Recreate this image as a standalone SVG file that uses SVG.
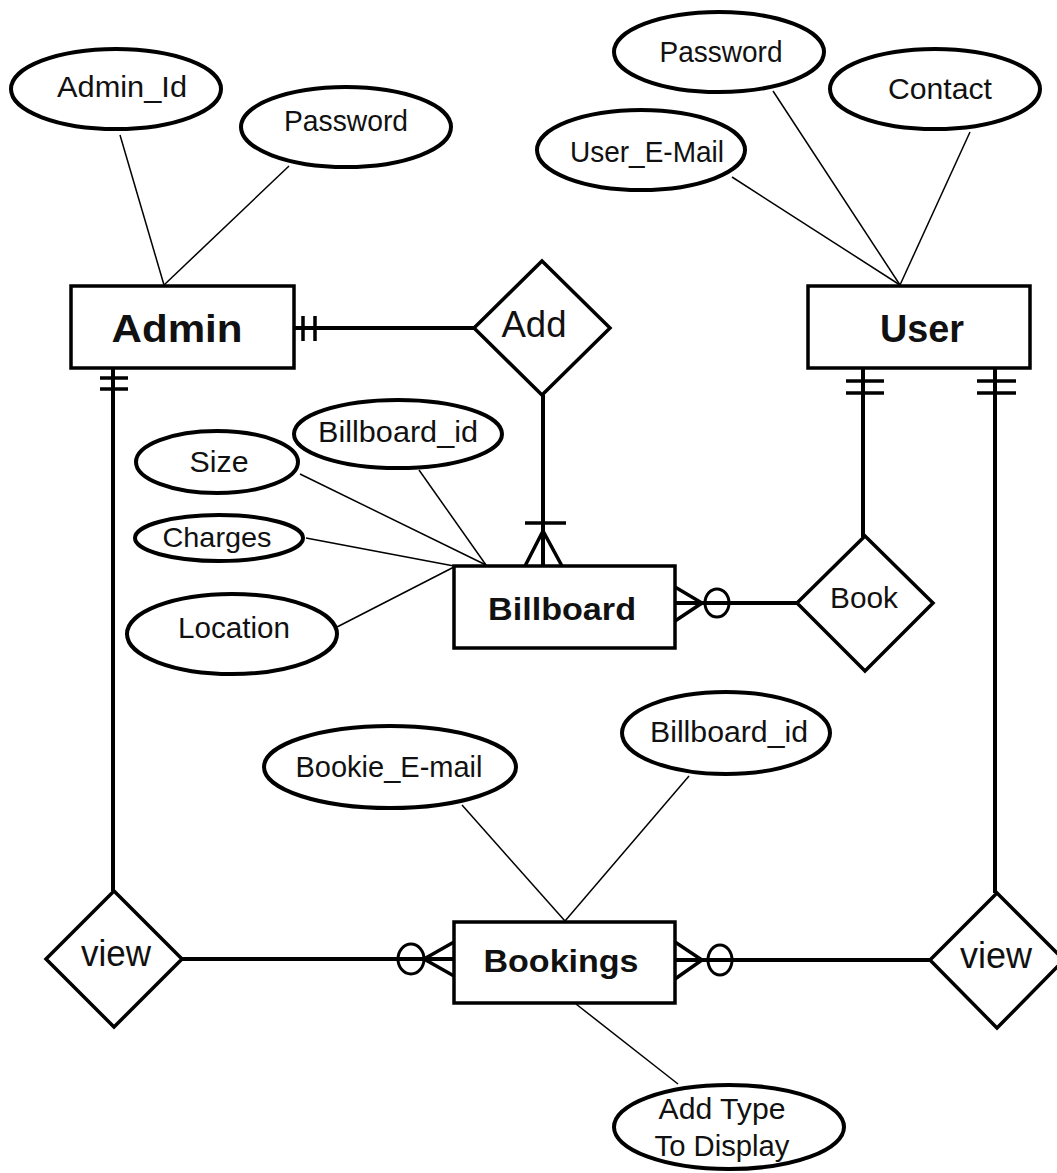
<svg xmlns="http://www.w3.org/2000/svg" width="1057" height="1173" viewBox="0 0 1057 1173">
<style>
  .bg { fill: #ffffff; }
  .ent { fill: #ffffff; stroke: #000; stroke-width: 3.5; }
  .att { fill: #ffffff; stroke: #000; stroke-width: 4; }
  .rel { fill: #ffffff; stroke: #000; stroke-width: 3.5; stroke-linejoin: miter; }
  .conn line, .conn polyline { stroke: #000; fill: none; }
  .thick { stroke-width: 4; }
  .thin { stroke-width: 1.5; }
  .mark { stroke-width: 3.5; }
  .circ { fill: none; stroke: #000; stroke-width: 3; }
  text { font-family: "Liberation Sans", Arial, sans-serif; fill: #111; text-anchor: middle; }
  .t { font-size: 30px; }
  .tb { font-weight: bold; }
</style>
<rect class="bg" x="0" y="0" width="1057" height="1173"/>

<g id="connectors" class="conn">
  <!-- attribute lines -->
  <line class="thin" x1="120" y1="135" x2="164" y2="285"/>
  <line class="thin" x1="289" y1="166" x2="164" y2="285"/>
  <line class="thin" x1="732" y1="177" x2="900" y2="285"/>
  <line class="thin" x1="773" y1="91" x2="900" y2="285"/>
  <line class="thin" x1="970" y1="132" x2="900" y2="285"/>
  <line class="thin" x1="300" y1="474" x2="486" y2="565"/>
  <line class="thin" x1="419" y1="470" x2="486" y2="565"/>
  <line class="thin" x1="306" y1="538" x2="454" y2="566"/>
  <line class="thin" x1="337" y1="627" x2="454" y2="567"/>
  <line class="thin" x1="462" y1="805" x2="565" y2="921"/>
  <line class="thin" x1="689" y1="776" x2="565" y2="921"/>
  <line class="thin" x1="576" y1="1004" x2="678" y2="1084"/>

  <!-- Admin - Add -->
  <line class="thick" x1="295" y1="328" x2="474" y2="328"/>
  <line class="mark" x1="303" y1="316" x2="303" y2="341"/>
  <line class="mark" x1="315" y1="316" x2="315" y2="341"/>

  <!-- Add - Billboard -->
  <line class="thick" x1="543" y1="395" x2="543" y2="566"/>
  <line class="mark" x1="525" y1="523" x2="566" y2="523"/>
  <polyline class="mark" points="525,566 543,531 562,566"/>

  <!-- Admin - view (left) -->
  <line class="thick" x1="113" y1="368" x2="113" y2="891"/>
  <line class="mark" x1="100" y1="378" x2="128" y2="378"/>
  <line class="mark" x1="100" y1="389" x2="128" y2="389"/>

  <!-- User - Book -->
  <line class="thick" x1="863" y1="369" x2="863" y2="537"/>
  <line class="mark" x1="846" y1="381" x2="884" y2="381"/>
  <line class="mark" x1="846" y1="393" x2="884" y2="393"/>

  <!-- User - view (right) -->
  <line class="thick" x1="995" y1="369" x2="995" y2="893"/>
  <line class="mark" x1="977" y1="381" x2="1016" y2="381"/>
  <line class="mark" x1="977" y1="393" x2="1016" y2="393"/>

  <!-- Billboard - Book -->
  <line class="thick" x1="675" y1="603" x2="797" y2="603"/>
  <polyline class="mark" points="675,587 702,603 675,621"/>
  <ellipse class="circ" cx="717" cy="603" rx="12" ry="14"/>

  <!-- view (left) - Bookings -->
  <line class="thick" x1="182" y1="959" x2="454" y2="959"/>
  <polyline class="mark" points="454,942 424,959 454,976"/>
  <ellipse class="circ" cx="411" cy="959" rx="13" ry="15"/>

  <!-- Bookings - view (right) -->
  <line class="thick" x1="675" y1="960" x2="930" y2="960"/>
  <polyline class="mark" points="675,942 702,960 675,979"/>
  <ellipse class="circ" cx="720" cy="960" rx="12" ry="15"/>
</g>

<g id="admin">
  <rect class="ent" x="71" y="286" width="223" height="82"/>
  <text class="tb" x="177" y="342" font-size="38" textLength="131" lengthAdjust="spacingAndGlyphs">Admin</text>
</g>
<g id="user">
  <rect class="ent" x="808" y="286" width="222" height="82"/>
  <text class="tb" x="922" y="342" font-size="38" textLength="84" lengthAdjust="spacingAndGlyphs">User</text>
</g>
<g id="billboard">
  <rect class="ent" x="454" y="566" width="221" height="82"/>
  <text class="tb" x="562" y="620" font-size="32" textLength="148" lengthAdjust="spacingAndGlyphs">Billboard</text>
</g>
<g id="bookings">
  <rect class="ent" x="454" y="922" width="221" height="81"/>
  <text class="tb" x="561" y="972" font-size="32" textLength="155" lengthAdjust="spacingAndGlyphs">Bookings</text>
</g>

<g id="add">
  <polygon class="rel" points="542,261 610,328 542,395 474,328"/>
  <text x="534" y="337" font-size="36" textLength="65" lengthAdjust="spacingAndGlyphs">Add</text>
</g>
<g id="book">
  <polygon class="rel" points="865,536 933,603 865,671 797,603"/>
  <text class="t" x="864" y="608" textLength="68" lengthAdjust="spacingAndGlyphs">Book</text>
</g>
<g id="view-admin">
  <polygon class="rel" points="114,891 182,959 114,1027 46,959"/>
  <text x="116" y="966" font-size="36" textLength="70" lengthAdjust="spacingAndGlyphs">view</text>
</g>
<g id="view-user">
  <polygon class="rel" points="997,893 1064,960 997,1028 930,960"/>
  <text x="996" y="968" font-size="36" textLength="72" lengthAdjust="spacingAndGlyphs">view</text>
</g>

<g id="attr-admin-id">
  <ellipse class="att" cx="116" cy="89" rx="105" ry="40"/>
  <text class="t" x="122" y="97" textLength="130" lengthAdjust="spacingAndGlyphs">Admin_Id</text>
</g>
<g id="attr-admin-password">
  <ellipse class="att" cx="346" cy="127" rx="105" ry="40"/>
  <text class="t" x="346" y="131" textLength="124" lengthAdjust="spacingAndGlyphs">Password</text>
</g>
<g id="attr-user-password">
  <ellipse class="att" cx="719" cy="52" rx="105" ry="40"/>
  <text class="t" x="721" y="62" textLength="123" lengthAdjust="spacingAndGlyphs">Password</text>
</g>
<g id="attr-user-contact">
  <ellipse class="att" cx="935" cy="89" rx="105" ry="40"/>
  <text class="t" x="940" y="99" textLength="104" lengthAdjust="spacingAndGlyphs">Contact</text>
</g>
<g id="attr-user-email">
  <ellipse class="att" cx="641" cy="150" rx="104" ry="40"/>
  <text class="t" x="647" y="162" textLength="154" lengthAdjust="spacingAndGlyphs">User_E-Mail</text>
</g>
<g id="attr-billboard-id">
  <ellipse class="att" cx="398" cy="434" rx="104" ry="34"/>
  <text class="t" x="398" y="442" textLength="160" lengthAdjust="spacingAndGlyphs">Billboard_id</text>
</g>
<g id="attr-size">
  <ellipse class="att" cx="217" cy="462" rx="81" ry="31"/>
  <text class="t" x="219" y="472" textLength="59" lengthAdjust="spacingAndGlyphs">Size</text>
</g>
<g id="attr-charges">
  <ellipse class="att" cx="219" cy="538" rx="84" ry="23"/>
  <text x="217" y="547" font-size="28" textLength="109" lengthAdjust="spacingAndGlyphs">Charges</text>
</g>
<g id="attr-location">
  <ellipse class="att" cx="232" cy="634" rx="105" ry="40"/>
  <text class="t" x="234" y="638" textLength="112" lengthAdjust="spacingAndGlyphs">Location</text>
</g>
<g id="attr-bookie-email">
  <ellipse class="att" cx="390" cy="767" rx="126" ry="41"/>
  <text class="t" x="389" y="777" textLength="187" lengthAdjust="spacingAndGlyphs">Bookie_E-mail</text>
</g>
<g id="attr-booking-billboard-id">
  <ellipse class="att" cx="726" cy="733" rx="104" ry="41"/>
  <text class="t" x="729" y="742" textLength="158" lengthAdjust="spacingAndGlyphs">Billboard_id</text>
</g>
<g id="attr-add-type">
  <ellipse class="att" cx="729" cy="1127" rx="115" ry="42"/>
  <text class="t" x="722" y="1119" textLength="127" lengthAdjust="spacingAndGlyphs">Add Type</text>
  <text class="t" x="722" y="1156" textLength="135" lengthAdjust="spacingAndGlyphs">To Display</text>
</g>
</svg>
